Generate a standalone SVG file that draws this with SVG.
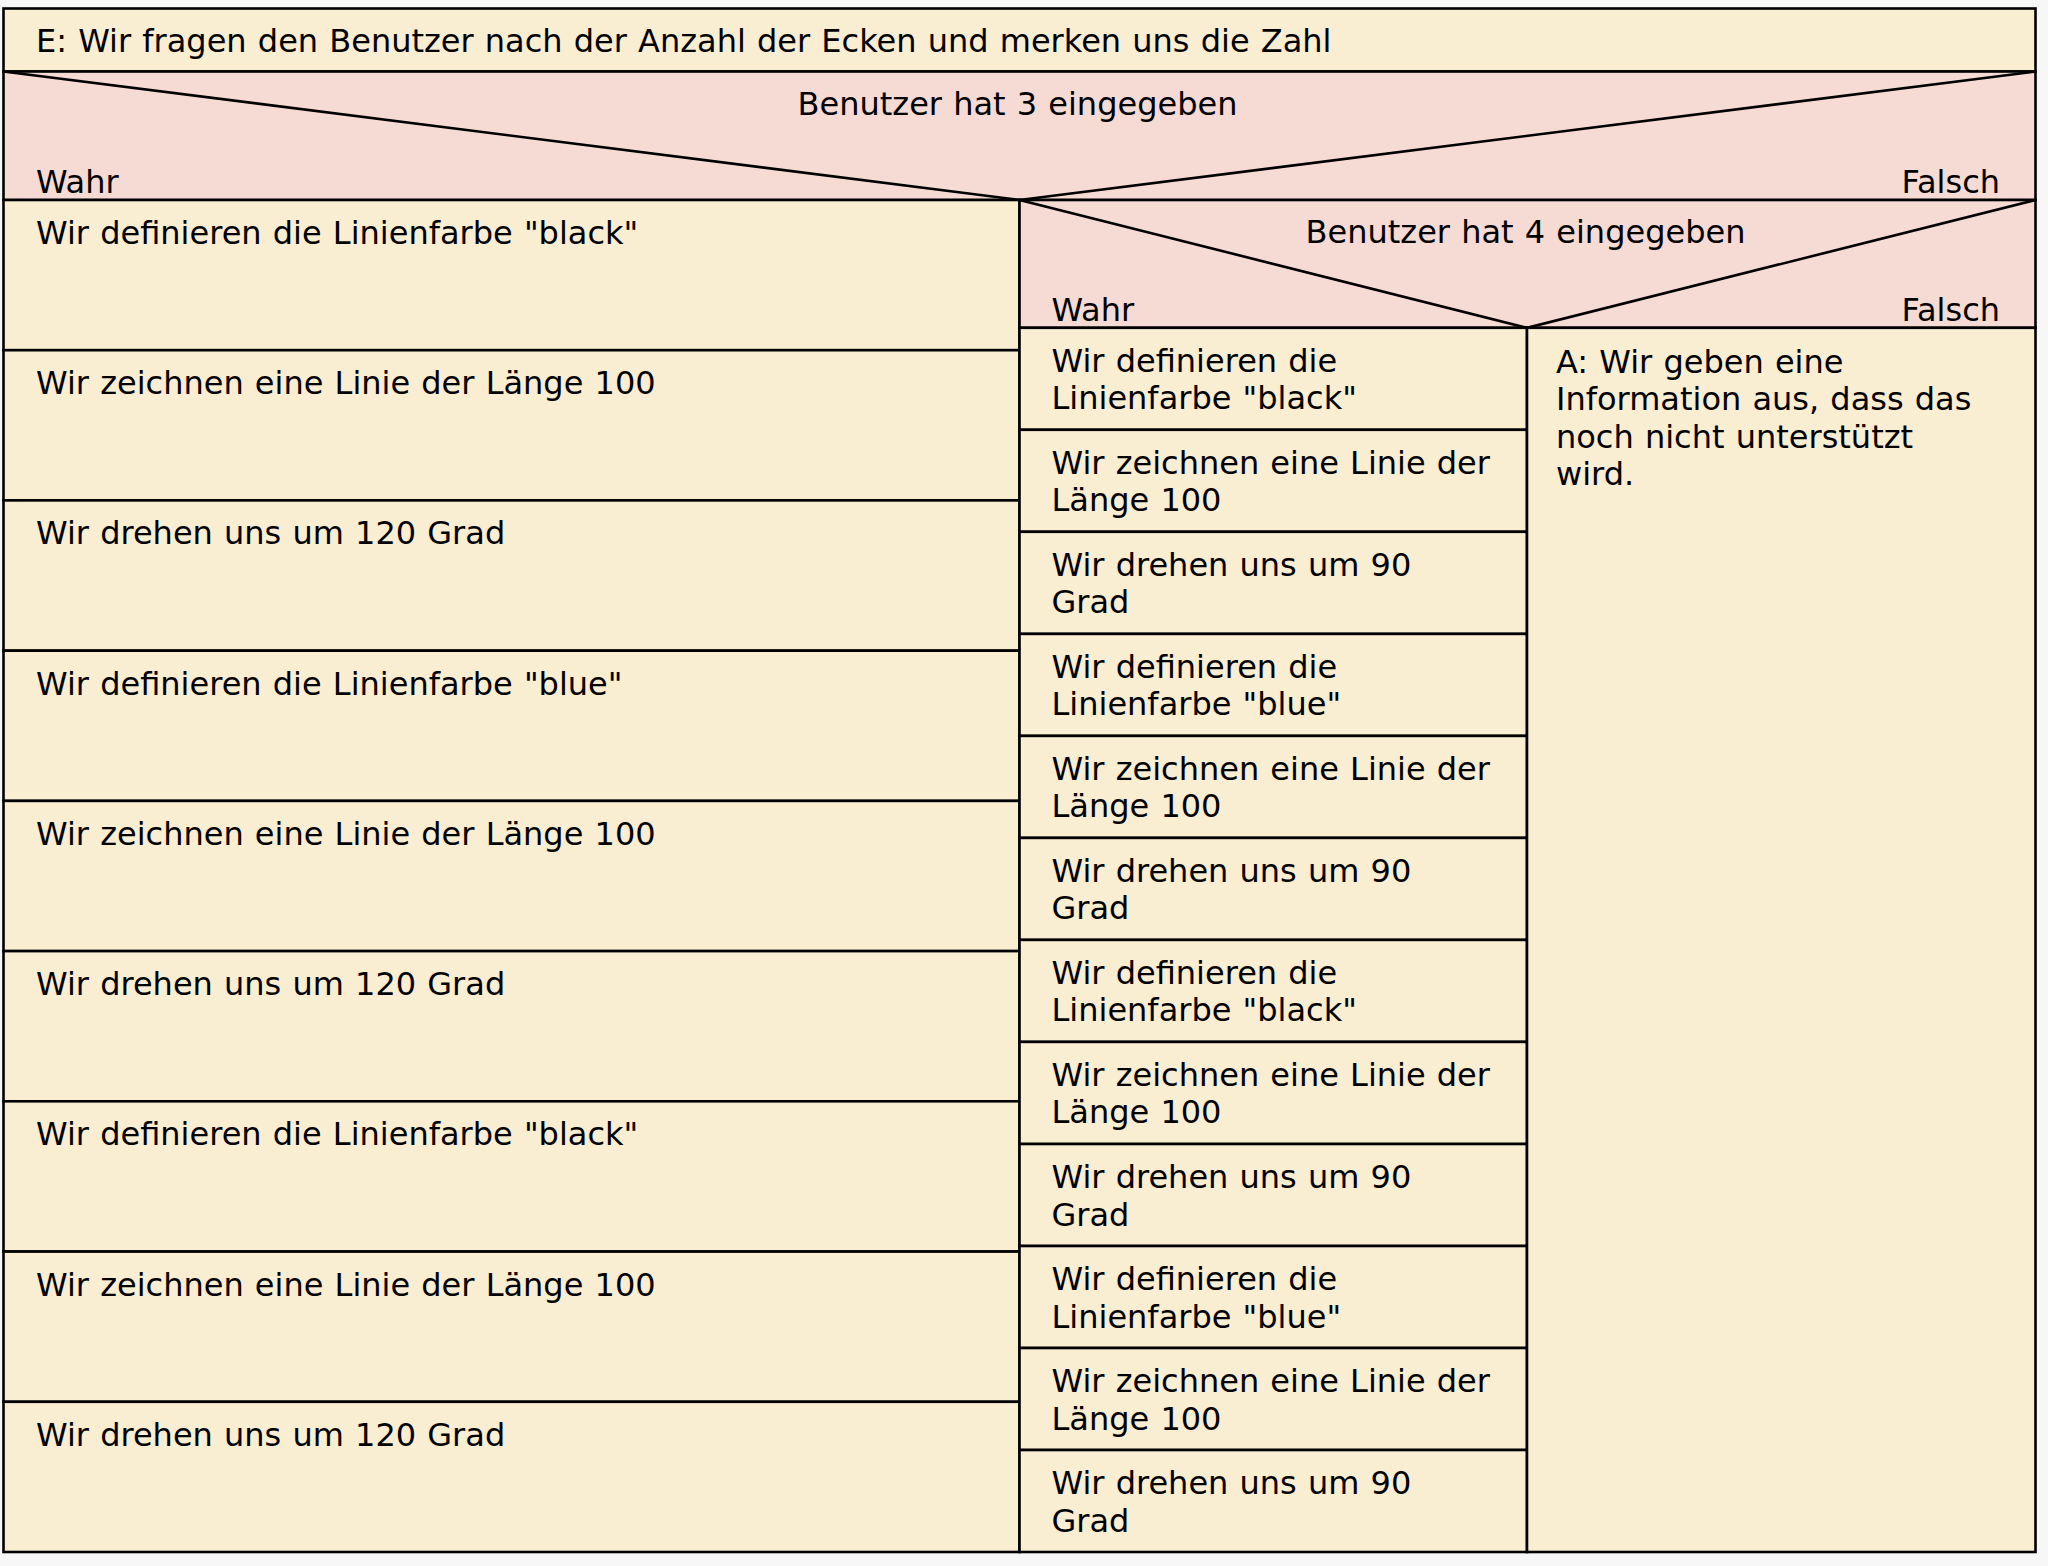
<svg xmlns="http://www.w3.org/2000/svg" width="2048" height="1566" viewBox="0 0 2048 1566">
<style>
.t{font-family:"DejaVu Sans","Liberation Sans",sans-serif;font-size:32px;word-spacing:1px;fill:#000}
.m{text-anchor:middle}
.e{text-anchor:end}
.c{fill:#F9EDD2;stroke:#000;stroke-width:2.6}
.p{fill:#F5DBD3;stroke:#000;stroke-width:2.6}
.l{stroke:#000;stroke-width:2.6;fill:none}
</style>
<rect x="0" y="0" width="2048" height="1566" fill="#F7F7F7"/>
<g id="title">
<rect class="c" x="3.5" y="8.5" width="2032" height="63"/>
<text class="t" x="36" y="52">E: Wir fragen den Benutzer nach der Anzahl der Ecken und merken uns die Zahl</text>
</g>
<g id="decision1">
<rect class="p" x="3.5" y="71.5" width="2032" height="128.5"/>
<polyline class="l" points="3.5,71.5 1019.5,200 2035.5,71.5"/>
<text class="t m" x="1017.5" y="115">Benutzer hat 3 eingegeben</text>
<text class="t" x="36" y="192.7">Wahr</text>
<text class="t e" x="2000" y="192.7">Falsch</text>
</g>
<g id="left-column">
<rect class="c" x="3.5" y="200" width="1016" height="150.2"/>
<text class="t" x="36" y="244">Wir definieren die Linienfarbe "black"</text>
<rect class="c" x="3.5" y="350.2" width="1016" height="150.2"/>
<text class="t" x="36" y="394.2">Wir zeichnen eine Linie der Länge 100</text>
<rect class="c" x="3.5" y="500.4" width="1016" height="150.2"/>
<text class="t" x="36" y="544.4">Wir drehen uns um 120 Grad</text>
<rect class="c" x="3.5" y="650.7" width="1016" height="150.2"/>
<text class="t" x="36" y="694.7">Wir definieren die Linienfarbe "blue"</text>
<rect class="c" x="3.5" y="800.9" width="1016" height="150.2"/>
<text class="t" x="36" y="844.9">Wir zeichnen eine Linie der Länge 100</text>
<rect class="c" x="3.5" y="951.1" width="1016" height="150.2"/>
<text class="t" x="36" y="995.1">Wir drehen uns um 120 Grad</text>
<rect class="c" x="3.5" y="1101.3" width="1016" height="150.2"/>
<text class="t" x="36" y="1145.3">Wir definieren die Linienfarbe "black"</text>
<rect class="c" x="3.5" y="1251.6" width="1016" height="150.2"/>
<text class="t" x="36" y="1295.6">Wir zeichnen eine Linie der Länge 100</text>
<rect class="c" x="3.5" y="1401.8" width="1016" height="150.2"/>
<text class="t" x="36" y="1445.8">Wir drehen uns um 120 Grad</text>
</g>
<g id="decision2">
<rect class="p" x="1019.5" y="200" width="1016" height="127.8"/>
<polyline class="l" points="1019.5,200 1527,327.8 2035.5,200"/>
<text class="t m" x="1525.5" y="243.3">Benutzer hat 4 eingegeben</text>
<text class="t" x="1051.5" y="320.7">Wahr</text>
<text class="t e" x="2000" y="320.7">Falsch</text>
</g>
<g id="middle-column">
<rect class="c" x="1019.5" y="327.8" width="507.5" height="102"/>
<text class="t" x="1051.5" y="371.7">Wir definieren die<tspan x="1051.5" dy="37.6">Linienfarbe "black"</tspan></text>
<rect class="c" x="1019.5" y="429.8" width="507.5" height="102"/>
<text class="t" x="1051.5" y="473.7">Wir zeichnen eine Linie der<tspan x="1051.5" dy="37.6">Länge 100</tspan></text>
<rect class="c" x="1019.5" y="531.8" width="507.5" height="102.1"/>
<text class="t" x="1051.5" y="575.7">Wir drehen uns um 90<tspan x="1051.5" dy="37.6">Grad</tspan></text>
<rect class="c" x="1019.5" y="633.9" width="507.5" height="102"/>
<text class="t" x="1051.5" y="677.8">Wir definieren die<tspan x="1051.5" dy="37.6">Linienfarbe "blue"</tspan></text>
<rect class="c" x="1019.5" y="735.9" width="507.5" height="102"/>
<text class="t" x="1051.5" y="779.8">Wir zeichnen eine Linie der<tspan x="1051.5" dy="37.6">Länge 100</tspan></text>
<rect class="c" x="1019.5" y="837.9" width="507.5" height="102"/>
<text class="t" x="1051.5" y="881.8">Wir drehen uns um 90<tspan x="1051.5" dy="37.6">Grad</tspan></text>
<rect class="c" x="1019.5" y="939.9" width="507.5" height="102"/>
<text class="t" x="1051.5" y="983.8">Wir definieren die<tspan x="1051.5" dy="37.6">Linienfarbe "black"</tspan></text>
<rect class="c" x="1019.5" y="1041.9" width="507.5" height="102.1"/>
<text class="t" x="1051.5" y="1085.8">Wir zeichnen eine Linie der<tspan x="1051.5" dy="37.6">Länge 100</tspan></text>
<rect class="c" x="1019.5" y="1144" width="507.5" height="102"/>
<text class="t" x="1051.5" y="1187.9">Wir drehen uns um 90<tspan x="1051.5" dy="37.6">Grad</tspan></text>
<rect class="c" x="1019.5" y="1246" width="507.5" height="102"/>
<text class="t" x="1051.5" y="1289.9">Wir definieren die<tspan x="1051.5" dy="37.6">Linienfarbe "blue"</tspan></text>
<rect class="c" x="1019.5" y="1348" width="507.5" height="102"/>
<text class="t" x="1051.5" y="1391.9">Wir zeichnen eine Linie der<tspan x="1051.5" dy="37.6">Länge 100</tspan></text>
<rect class="c" x="1019.5" y="1450" width="507.5" height="102"/>
<text class="t" x="1051.5" y="1493.9">Wir drehen uns um 90<tspan x="1051.5" dy="37.6">Grad</tspan></text>
</g>
<g id="right-column">
<rect class="c" x="1527" y="327.8" width="508.5" height="1224.2"/>
<text class="t" x="1556" y="372.7">A: Wir geben eine<tspan x="1556" dy="37.5">Information aus, dass das</tspan><tspan x="1556" dy="37.5">noch nicht unterstützt</tspan><tspan x="1556" dy="37.5">wird.</tspan></text>
</g>
<g id="connectors"></g>
</svg>
